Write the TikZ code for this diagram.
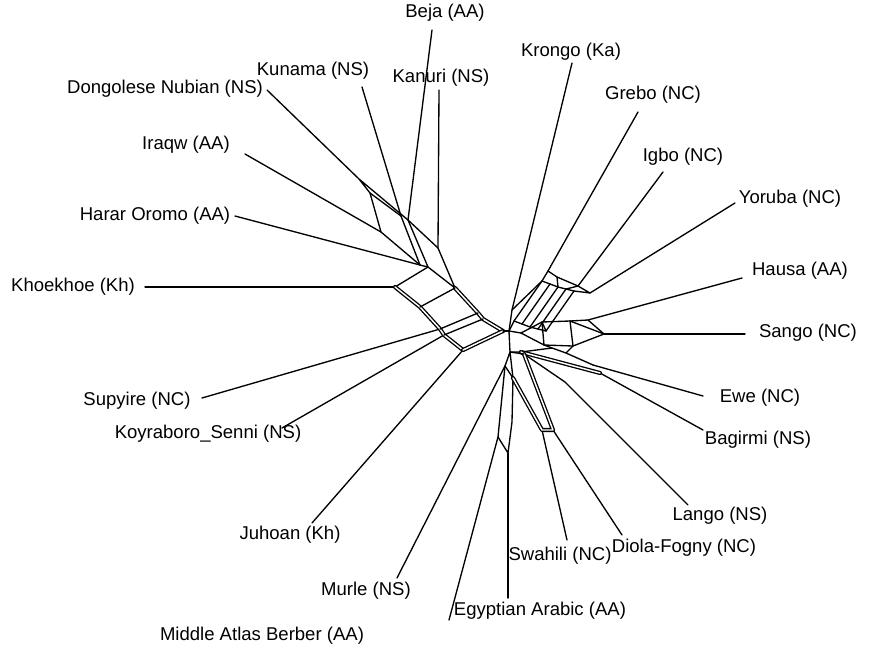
\documentclass[tikz,border=0pt]{standalone}
\usepackage{fontspec}
\setmainfont{Liberation Sans}
\begin{document}
\begin{tikzpicture}[x=0.75pt,y=-0.75pt,
  edge/.style={line width=1pt, line join=round, line cap=round},
  band/.style={edge, double, double distance=1.1pt},
  lab/.style={font=\fontsize{13.9}{16}\selectfont, inner sep=0pt}]
\useasboundingbox (0,0) rectangle (869,654);

% ---------- taxon labels ----------
\node[lab] (tBeja)  at (445,13)  {Beja (AA)};
\node[lab] (tKuna)  at (313,71)  {Kunama (NS)};
\node[lab] (tDong)  at (165,89)  {Dongolese Nubian (NS)};
\node[lab] (tKanu)  at (441,78)  {Kanuri (NS)};
\node[lab] (tKron)  at (571,52)  {Krongo (Ka)};
\node[lab] (tGreb)  at (653,95)  {Grebo (NC)};
\node[lab] (tIraq)  at (186,145) {Iraqw (AA)};
\node[lab] (tIgbo)  at (683,157) {Igbo (NC)};
\node[lab] (tYoru)  at (790,199) {Yoruba (NC)};
\node[lab] (tHara)  at (155,216) {Harar Oromo (AA)};
\node[lab] (tHaus)  at (800,271) {Hausa (AA)};
\node[lab] (tKhoe)  at (73,287)  {Khoekhoe (Kh)};
\node[lab] (tSang)  at (808,333) {Sango (NC)};
\node[lab] (tSupy)  at (137,401) {Supyire (NC)};
\node[lab] (tEwe)   at (760,398) {Ewe (NC)};
\node[lab] (tKoyr)  at (208,434) {Koyraboro\_Senni (NS)};
\node[lab] (tBagi)  at (758,440) {Bagirmi (NS)};
\node[lab] (tLang)  at (720,516) {Lango (NS)};
\node[lab] (tJuho)  at (290,535) {Juhoan (Kh)};
\node[lab] (tDiol)  at (684,548) {Diola-Fogny (NC)};
\node[lab] (tSwah)  at (560,556) {Swahili (NC)};
\node[lab] (tMurl)  at (366,591) {Murle (NS)};
\node[lab] (tEgyp)  at (540,611) {Egyptian Arabic (AA)};
\node[lab] (tMidd)  at (262,636) {Middle Atlas Berber (AA)};

% ---------- outer ends of the pendant edges ----------
\coordinate (oBeja) at (432,30);
\coordinate (oKuna) at (362,87);
\coordinate (oDong) at (267,90);
\coordinate (oKanu) at (439,90);
\coordinate (oKron) at (572,63);
\coordinate (oGreb) at (638,112);
\coordinate (oIraq) at (245,154);
\coordinate (oIgbo) at (663,172);
\coordinate (oYoru) at (735,203);
\coordinate (oHara) at (235,216);
\coordinate (oHaus) at (742,278);
\coordinate (oKhoe) at (145,287);
\coordinate (oSang) at (745,334);
\coordinate (oSupy) at (202,398);
\coordinate (oEwe)  at (703,396);
\coordinate (oKoyr) at (282,428);
\coordinate (oBagi) at (703,430);
\coordinate (oLang) at (688,505);
\coordinate (oJuho) at (312,523);
\coordinate (oDiol) at (622,535);
\coordinate (oSwah) at (567,540);
\coordinate (oMurl) at (397,578);
\coordinate (oEgyp) at (508,598);
\coordinate (oMidd) at (449,620);

% ---------- inner nodes: Afroasiatic / Khoe side ----------
\coordinate (dn) at (359,179);
\coordinate (b1) at (370,193);
\coordinate (iq) at (381,232);
\coordinate (ku) at (401,216);
\coordinate (be) at (408,220);
\coordinate (ho) at (420,265);
\coordinate (hh) at (428,267);
\coordinate (ka) at (438,248);
\coordinate (k1) at (455,288);
\coordinate (kh) at (395,287);
\coordinate (l1) at (420,307);
\coordinate (l2) at (440,329);
\coordinate (l3) at (444,335);
\coordinate (l4) at (463,350);
\coordinate (r1) at (478,313);
\coordinate (r2) at (483,319);
\coordinate (c1) at (503,331);
\coordinate (oo) at (509,331);

% ---------- inner nodes: Niger-Congo side ----------
\coordinate (kr) at (512,310);
\coordinate (q1) at (514,321);
\coordinate (q2) at (522,324);
\coordinate (q3) at (530,327);
\coordinate (q4) at (538,329);
\coordinate (q5) at (546,331);
\coordinate (p1) at (542,281);
\coordinate (p2) at (550,284);
\coordinate (p3) at (558,287);
\coordinate (p4) at (566,289);
\coordinate (p5) at (574,291);
\coordinate (gr) at (548,271);
\coordinate (t1) at (557,277);
\coordinate (ig) at (578,286);
\coordinate (yo) at (590,293);
\coordinate (z0) at (521,333);
\coordinate (s1) at (542,322);
\coordinate (s2) at (570,321);
\coordinate (s3) at (544,345);
\coordinate (s4) at (573,346);
\coordinate (ha) at (588,320);
\coordinate (sa) at (604,334);
\coordinate (e0) at (521,352);
\coordinate (e1) at (552,348);
\coordinate (e2) at (566,353);
\coordinate (ew) at (593,365);
\coordinate (bg) at (600,373);
\coordinate (la) at (565,382);

% ---------- inner nodes: lower group ----------
\coordinate (m0) at (510,352);
\coordinate (mu) at (505,366);
\coordinate (ma) at (498,437);
\coordinate (ea) at (508,453);
\coordinate (m1) at (513,378);
\coordinate (m2) at (512,422);
\coordinate (d0) at (524,354);
\coordinate (sw) at (542,430);
\coordinate (di) at (553,430);

% ---------- pendant edges ----------
\draw[edge] (oDong) -- (dn);
\draw[edge] (oIraq) -- (iq);
\draw[edge] (oHara) -- (ho);
\draw[edge] (oKhoe) -- (kh);
\draw[edge] (oKanu) -- (ka);
\draw[edge] (oKuna) -- (ku);
\draw[edge] (oBeja) -- (be);
\draw[edge] (oSupy) -- (l2);
\draw[edge] (oKoyr) -- (l3);
\draw[edge] (oJuho) -- (l4);
\draw[edge] (oMurl) -- (mu);
\draw[edge] (oMidd) -- (ma);
\draw[edge] (oEgyp) -- (ea);
\draw[edge] (oSwah) -- (sw);
\draw[edge] (oDiol) -- (di);
\draw[edge] (oLang) -- (la);
\draw[edge] (oBagi) -- (bg);
\draw[edge] (oEwe)  -- (ew);
\draw[edge] (oSang) -- (sa);
\draw[edge] (oHaus) -- (ha);
\draw[edge] (oYoru) -- (yo);
\draw[edge] (oIgbo) -- (ig);
\draw[edge] (oGreb) -- (gr);
\draw[edge] (oKron) -- (kr);

% ---------- splits, left side ----------
\draw[edge] (dn) -- (b1) -- (iq) -- (ho) -- (hh) -- (be) -- (dn);
\draw[edge] (b1) -- (ku) -- (ho);
\draw[edge] (be) -- (ka) -- (k1) -- (hh) -- (kh);
\draw[band] (kh) -- (l1) -- (l2) -- (l3) -- (l4);
\draw[band] (k1) -- (r1) -- (r2) -- (c1);
\draw[edge] (l1) -- (k1);
\draw[edge] (l2) -- (r1);
\draw[edge] (l3) -- (r2);
\draw[band] (l4) -- (c1);
\draw[edge] (c1) -- (oo);

% ---------- splits, upper right ----------
\draw[edge] (oo) -- (kr) -- (p1);
\draw[edge] (oo) -- (q1) -- (q2) -- (q3) -- (q4) -- (q5);
\draw[edge] (q1) -- (p1);
\draw[edge] (q2) -- (p2);
\draw[edge] (q3) -- (p3);
\draw[edge] (q4) -- (p4);
\draw[edge] (q5) -- (p5);
\draw[edge] (p1) -- (p2) -- (p3) -- (p4) -- (p5);
\draw[edge] (p1) -- (gr) -- (t1) -- (ig) -- (yo) -- (p5);
\draw[edge] (t1) -- (p3);
\draw[edge] (ig) -- (p4);

% ---------- splits, Sango / Hausa ----------
\draw[edge] (oo) -- (z0);
\draw[edge] (z0) -- (s1) -- (s2) -- (ha) -- (sa) -- (s4) -- (s3) -- (z0);
\draw[edge] (s1) -- (s3);
\draw[edge] (s2) -- (s4);
\draw[edge] (s2) -- (sa);
\draw[edge] (q5) -- (s1);

% ---------- splits, lower right ----------
\draw[edge] (oo) -- (m0) -- (e0) -- (e1) -- (e2) -- (ew);
\draw[band] (e0) -- (bg);
\draw[edge] (e1) -- (s3);
\draw[edge] (e2) -- (s4);
\draw[edge] (d0) -- (la);

% ---------- splits, lower group ----------
\draw[edge] (m0) -- (mu) -- (ma) -- (ea) -- (m2) -- (m1) -- (m0);
\draw[edge] (mu) -- (m1);
\draw[band] (m1) -- (sw) -- (di) -- (d0) -- (e0);
\draw[edge] (m0) -- (d0);
\end{tikzpicture}
\end{document}
